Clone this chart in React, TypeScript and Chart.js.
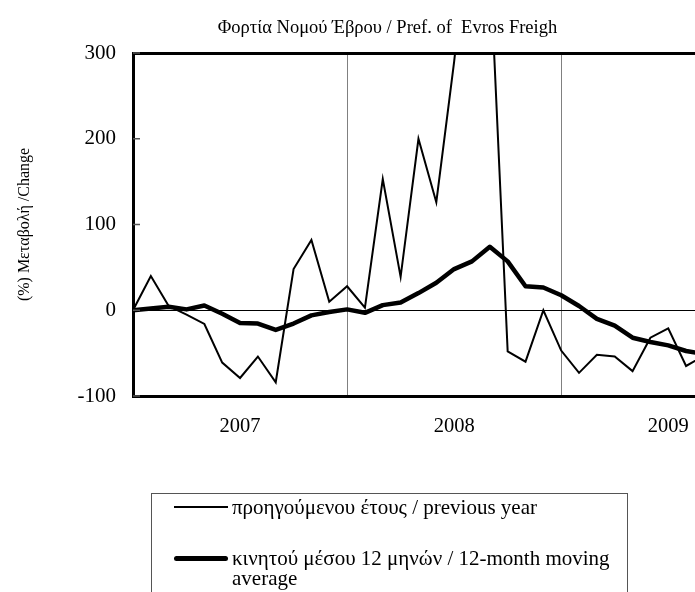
import React, { useEffect, useRef } from 'react';
import { Chart, registerables } from 'chart.js';

Chart.register(...registerables);

const FONT = '"Liberation Serif", "Times New Roman", serif';

// Monthly categories (index 0 = Jan 2007)
const months: string[] = [
  '2007-01', '2007-02', '2007-03', '2007-04', '2007-05', '2007-06',
  '2007-07', '2007-08', '2007-09', '2007-10', '2007-11', '2007-12',
  '2008-01', '2008-02', '2008-03', '2008-04', '2008-05', '2008-06',
  '2008-07', '2008-08', '2008-09', '2008-10', '2008-11', '2008-12',
  '2009-01', '2009-02', '2009-03', '2009-04', '2009-05', '2009-06',
  '2009-07', '2009-08', '2009-09',
];

// % change on previous year
const previousYear: number[] = [
  0, 40, 5, -5, -16, -61, -79, -54, -84, 48, 82, 10,
  28, 3, 153, 39, 200, 126, 290, 480, 410, -48, -60, 0,
  -47, -73, -52, -54, -71, -32, -21, -65, -53,
];

// 12-month moving average
const movingAverage: number[] = [
  0, 2, 4, 1, 5.5, -4, -15, -15.5, -23, -15.5, -6, -2,
  1, -3, 6, 9, 20, 32, 48, 57, 74, 57, 28, 26.5,
  17.5, 5, -10, -18, -32, -37, -41, -47.5, -51,
];

const yearLabels: string[] = ['2007', '2008', '2009'];
const yearLabelPositions: number[] = [6, 18, 30];
const yearBoundaries: number[] = [12, 24];

const yMin = -100;
const yMax = 300;
const yStep = 100;
const xMax = 31.5;

const titleText = 'Φορτία Νομού Έβρου / Pref. of  Evros Freigh';
const yTitleText = '(%) Μεταβολή /Change';
const legendLabels: string[] = [
  'προηγούμενου έτους / previous year',
  'κινητού μέσου 12 μηνών / 12-month moving average',
];

const innerTicks = {
  id: 'innerTicks',
  afterDatasetsDraw(chart: any) {
    const y = chart.scales.y;
    const ctx = chart.ctx;
    ctx.save();
    ctx.strokeStyle = '#555';
    ctx.lineWidth = 1.5;
    y.ticks.forEach((t: any) => {
      const py = y.getPixelForValue(t.value);
      ctx.beginPath();
      ctx.moveTo(y.right, py);
      ctx.lineTo(y.right + 7, py);
      ctx.stroke();
    });
    ctx.restore();
  },
};

export default function App() {
  const canvasRef = useRef<HTMLCanvasElement | null>(null);

  useEffect(() => {
    if (!canvasRef.current) return;
    const chart = new Chart(canvasRef.current, {
      type: 'line',
      data: {
        datasets: [
          {
            label: legendLabels[0],
            data: months.map((_, i) => ({ x: i, y: previousYear[i] })),
            borderColor: '#000',
            borderWidth: 2,
            pointRadius: 0,
            tension: 0,
            fill: false,
            clip: 0,
          },
          {
            label: legendLabels[1],
            data: months.map((_, i) => ({ x: i, y: movingAverage[i] })),
            borderColor: '#000',
            borderWidth: 4.5,
            borderJoinStyle: 'round',
            borderCapStyle: 'round',
            pointRadius: 0,
            tension: 0,
            fill: false,
            clip: 0,
          },
        ],
      },
      options: {
        responsive: false,
        animation: false,
        layout: { padding: { top: 53, left: 0, right: 0, bottom: 156 } },
        plugins: {
          legend: { display: false },
          tooltip: { enabled: false },
          title: { display: false },
        },
        scales: {
          x: {
            type: 'linear',
            min: 0,
            max: xMax,
            afterBuildTicks: (s: any) => {
              s.ticks = [...yearLabelPositions, ...yearBoundaries, 0]
                .sort((a, b) => a - b)
                .map((v) => ({ value: v }));
            },
            ticks: {
              autoSkip: false,
              maxRotation: 0,
              color: '#000',
              font: { family: FONT, size: 20.5 },
              padding: 2,
              callback: (v: any) => {
                const i = yearLabelPositions.indexOf(Number(v));
                return i >= 0 ? yearLabels[i] : '';
              },
            },
            grid: {
              drawTicks: true,
              tickLength: 16,
              tickColor: 'rgba(0,0,0,0)',
              color: (c: any) =>
                c.tick && yearBoundaries.includes(c.tick.value) ? '#808080' : 'rgba(0,0,0,0)',
              lineWidth: 1,
            },
            border: { color: '#000', width: 3 },
            afterFit: (s: any) => {
              s.height = 40;
            },
          },
          y: {
            min: yMin,
            max: yMax,
            ticks: {
              stepSize: yStep,
              color: '#000',
              font: { family: FONT, size: 21 },
              padding: 17,
            },
            grid: {
              drawTicks: false,
              color: (c: any) =>
                c.tick && (c.tick.value === 0 || c.tick.value === yMax) ? '#000' : 'rgba(0,0,0,0)',
              lineWidth: (c: any) => (c.tick && c.tick.value === yMax ? 3 : 1),
            },
            border: { color: '#000', width: 3 },
            title: {
              display: true,
              text: yTitleText,
              color: '#000',
              font: { family: FONT, size: 16 },
              padding: { top: 15, bottom: 0 },
            },
            afterFit: (s: any) => {
              s.width = 133;
            },
          },
        },
      } as any,
      plugins: [innerTicks],
    });
    return () => chart.destroy();
  }, []);

  return (
    <div style={{ position: 'fixed', left: 0, top: 0, width: 695, height: 592, background: '#fff', overflow: 'hidden' }}>
      <canvas ref={canvasRef} width={695} height={592} style={{ position: 'absolute', left: 0, top: 0 }} />
      <div
        style={{
          position: 'absolute',
          left: 0,
          top: 16,
          width: 775,
          textAlign: 'center',
          fontFamily: FONT,
          fontSize: 18.5,
          lineHeight: '22px',
          color: '#000',
          whiteSpace: 'pre',
        }}
      >
        {titleText}
      </div>
      <div
        style={{
          position: 'absolute',
          left: 151,
          top: 493,
          width: 477,
          height: 130,
          border: '1px solid #555',
          boxSizing: 'border-box',
          fontFamily: FONT,
          fontSize: 21,
          color: '#000',
        }}
      >
        <div style={{ position: 'absolute', left: 22, top: 12, width: 54, height: 2, background: '#000' }} />
        <div style={{ position: 'absolute', left: 80, top: 1, whiteSpace: 'nowrap', lineHeight: '24px' }}>
          {legendLabels[0]}
        </div>
        <div style={{ position: 'absolute', left: 22, top: 61.5, width: 54, height: 5, background: '#000', borderRadius: 3 }} />
        <div style={{ position: 'absolute', left: 80, top: 54, width: 392, lineHeight: '20px' }}>
          {legendLabels[1]}
        </div>
      </div>
    </div>
  );
}
